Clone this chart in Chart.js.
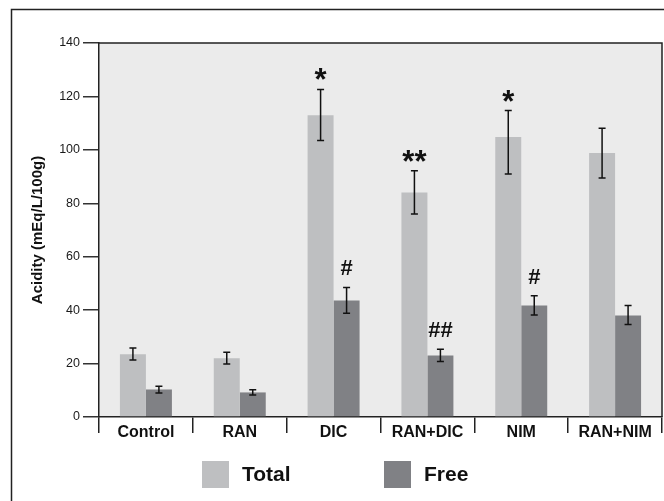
<!DOCTYPE html>
<html>
<head>
<meta charset="utf-8">
<script src="https://cdn.jsdelivr.net/npm/chart.js@4"></script>
<style>
  body { margin: 0; background: #fff; }
</style>
</head>
<body>
<canvas id="acidChart" width="664" height="501"></canvas>
<script>
// data
const categories = ['Control', 'RAN', 'DIC', 'RAN+DIC', 'NIM', 'RAN+NIM'];
const totalValues = [23.5, 22.0, 113.0, 84.0, 104.8, 98.8];
const totalErrUp = [2.3, 2.2, 9.6, 8.2, 9.9, 9.3];
const totalErrDown = [2.2, 2.2, 9.5, 8.0, 13.8, 9.3];
const freeValues = [10.3, 9.2, 43.6, 23.0, 41.7, 38.0];
const freeErrUp = [1.2, 1.0, 4.9, 2.4, 3.7, 3.7];
const freeErrDown = [1.3, 1.0, 4.8, 2.2, 3.5, 3.4];
const totalMarks = ['', '', '*', '**', '*', ''];
const freeMarks = ['', '', '#', '##', '#', ''];
const seriesNames = ['Total', 'Free'];
const yMin = 0, yMax = 140, yStep = 20;

const FONT = "'Liberation Sans', Arial, Helvetica, sans-serif";
const totalColor = '#bebfc1';
const freeColor = '#808185';

const errUps = [totalErrUp, freeErrUp];
const errDowns = [totalErrDown, freeErrDown];
const marks = [totalMarks, freeMarks];

// background + frames + legend
const decorPlugin = {
  id: 'decor',
  beforeDraw(chart) {
    const { ctx, chartArea: a } = chart;
    ctx.save();
    ctx.fillStyle = '#ebebeb';
    ctx.fillRect(a.left, a.top, a.right - a.left, a.bottom - a.top);
    ctx.restore();
  },
  afterDraw(chart) {
    const { ctx, chartArea: a } = chart;
    ctx.save();
    ctx.strokeStyle = '#222';
    ctx.lineWidth = 1.5;
    // plot box top / right
    ctx.beginPath();
    ctx.moveTo(a.left, a.top);
    ctx.lineTo(a.right, a.top);
    ctx.lineTo(a.right, a.bottom);
    ctx.stroke();
    // outer frame
    ctx.beginPath();
    ctx.moveTo(11.5, 501);
    ctx.lineTo(11.5, 9.5);
    ctx.lineTo(664, 9.5);
    ctx.stroke();

    // legend
    const ds = chart.data.datasets;
    const boxX = [202, 384];
    ctx.font = 'bold 21px ' + FONT;
    ctx.textBaseline = 'middle';
    ctx.textAlign = 'left';
    ds.forEach((d, i) => {
      ctx.fillStyle = d.backgroundColor;
      ctx.fillRect(boxX[i], 461, 27, 27);
      ctx.fillStyle = '#111';
      ctx.fillText(d.label, boxX[i] + 40, 475);
    });
    ctx.restore();
  },
  afterDatasetsDraw(chart) {
    const { ctx } = chart;
    const y = chart.scales.y;
    ctx.save();
    chart.data.datasets.forEach((d, di) => {
      const meta = chart.getDatasetMeta(di);
      meta.data.forEach((bar, i) => {
        const v = d.data[i];
        const yt = y.getPixelForValue(v + errUps[di][i]);
        const yb = y.getPixelForValue(v - errDowns[di][i]);
        const x = bar.x;
        ctx.strokeStyle = '#111';
        ctx.lineWidth = 1.5;
        ctx.beginPath();
        ctx.moveTo(x, yt); ctx.lineTo(x, yb);
        ctx.moveTo(x - 3.5, yt); ctx.lineTo(x + 3.5, yt);
        ctx.moveTo(x - 3.5, yb); ctx.lineTo(x + 3.5, yb);
        ctx.stroke();

        const m = marks[di][i];
        if (m) {
          ctx.fillStyle = '#111';
          ctx.textAlign = 'center';
          ctx.textBaseline = 'alphabetic';
          if (m.indexOf('*') >= 0) {
            ctx.font = 'bold 31px ' + FONT;
            ctx.fillText(m, x, yt + 1);
          } else {
            ctx.font = 'bold 22px ' + FONT;
            ctx.fillText(m, x, yt - 12);
          }
        }
      });
    });
    ctx.restore();
  }
};

new Chart(document.getElementById('acidChart'), {
  type: 'bar',
  data: {
    labels: categories,
    datasets: [
      { label: seriesNames[0], data: totalValues, backgroundColor: totalColor },
      { label: seriesNames[1], data: freeValues, backgroundColor: freeColor }
    ]
  },
  options: {
    responsive: false,
    animation: false,
    categoryPercentage: 0.554,
    barPercentage: 1.0,
    layout: { padding: { left: 0, top: 43, right: 2, bottom: 44 } },
    plugins: {
      legend: { display: false },
      tooltip: { enabled: false }
    },
    scales: {
      x: {
        grid: {
          offset: true,
          drawOnChartArea: false,
          drawTicks: true,
          tickLength: 16,
          color: '#222',
          lineWidth: 1.5
        },
        border: { display: true, color: '#222', width: 1.5 },
        ticks: {
          color: '#111',
          font: { family: FONT, size: 16, weight: 'bold' },
          padding: -10,
          maxRotation: 0
        },
        afterFit(scale) { scale.height = 40; }
      },
      y: {
        min: yMin,
        max: yMax,
        ticks: {
          stepSize: yStep,
          color: '#1a1a1a',
          font: { family: FONT, size: 12.5 },
          padding: 3
        },
        grid: {
          drawOnChartArea: false,
          tickLength: 16,
          color: '#333',
          lineWidth: 1.5
        },
        border: { display: true, color: '#222', width: 1.5 },
        title: {
          display: true,
          text: 'Acidity (mEq/L/100g)',
          color: '#111',
          font: { family: FONT, size: 15, weight: 'bold' },
          padding: { top: 29, bottom: 0 }
        },
        afterFit(scale) { scale.width = 99; }
      }
    }
  },
  plugins: [decorPlugin]
});
</script>
</body>
</html>
